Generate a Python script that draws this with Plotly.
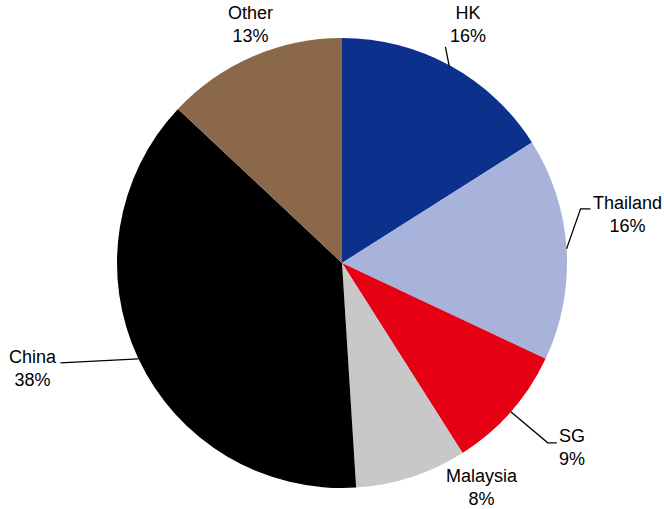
import math
import plotly.graph_objects as go

# Share of exposure by market, clockwise from 12 o'clock
categories = ["HK", "Thailand", "SG", "Malaysia", "China", "Other"]
shares = [16, 16, 9, 8, 38, 13]
colors = ["#0B318C", "#A7B3DA", "#E60013", "#C8C8C8", "#000000", "#8B6849"]

W, H = 664, 509
CX, CY, R = 342, 263, 225  # pie centre and radius in pixels

# Label placement per slice: offset of the text from the rim point (px),
# and optional leader-line points (px offsets from rim point).
label_style = {
    "HK":       dict(text_off=(18, -41), leader=[(-1, 1), (-5, -19)]),
    "Thailand": dict(text_off=(61, -34), leader=[(0, 0), (14, -40), (24, -40)]),
    "SG":       dict(text_off=(61, 36), leader=[(0, 0), (37, 31), (46, 31)]),
    "Malaysia": dict(text_off=(70, 11), leader=None),
    "China":    dict(text_off=(-105, 10), leader=[(0, 0), (-78, 4)]),
    "Other":    dict(text_off=(-2, -32), leader=None),
}


def px(x, y):
    return x / W, 1 - y / H


fig = go.Figure(go.Pie(
    labels=categories,
    values=shares,
    sort=False,
    direction="clockwise",
    rotation=0,
    marker=dict(colors=colors, line=dict(width=0)),
    textinfo="none",
    hoverinfo="label+percent",
    showlegend=False,
    domain=dict(x=[(CX - R) / W, (CX + R) / W], y=[1 - (CY + R) / H, 1 - (CY - R) / H]),
))

total = sum(shares)
cum = 0
annotations, shapes = [], []
for cat, val in zip(categories, shares):
    mid = (cum + val / 2) / total * 2 * math.pi
    cum += val
    ex = CX + R * math.sin(mid)
    ey = CY - R * math.cos(mid)
    st = label_style[cat]
    tx, ty = px(ex + st["text_off"][0], ey + st["text_off"][1])
    annotations.append(dict(
        x=tx, y=ty, xref="paper", yref="paper", showarrow=False,
        text=f"{cat}<br>{round(val / total * 100)}%",
        font=dict(family="Liberation Sans, Arial, sans-serif", size=18, color="#000000"),
        align="center", xanchor="center", yanchor="middle",
    ))
    if st["leader"]:
        pts = [px(ex + dx, ey + dy) for dx, dy in st["leader"]]
        path = "M " + " L ".join(f"{x},{y}" for x, y in pts)
        shapes.append(dict(type="path", xref="paper", yref="paper", path=path,
                           line=dict(color="#000000", width=1.3)))

fig.update_layout(
    width=W, height=H,
    margin=dict(l=0, r=0, t=0, b=0),
    paper_bgcolor="white", plot_bgcolor="white",
    annotations=annotations, shapes=shapes,
)

fig.write_html("out.html")
